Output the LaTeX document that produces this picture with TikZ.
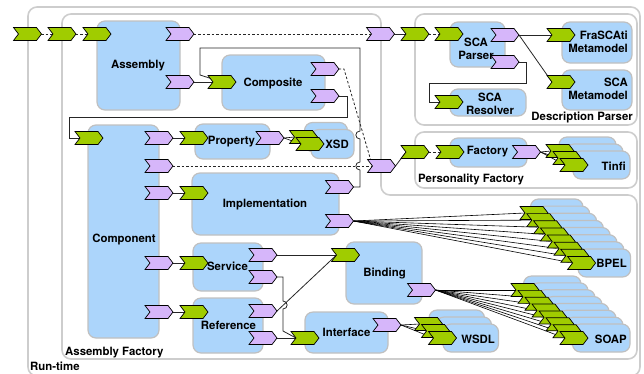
\documentclass[tikz,border=0pt]{standalone}
\usepackage{fontspec}
\setmainfont{TeX Gyre Heros}
\usetikzlibrary{shapes.symbols}
\definecolor{sgreen}{RGB}{160,204,0}
\definecolor{spurple}{RGB}{214,182,250}
\definecolor{sblue}{RGB}{172,213,251}
\definecolor{sframe}{RGB}{205,205,205}
\definecolor{sborder}{RGB}{192,192,192}
\pgfdeclarelayer{frames}
\pgfdeclarelayer{edges}
\pgfsetlayers{frames,edges,main}
\begin{document}
\begin{tikzpicture}[x=1pt,y=-1pt,
 font=\fontsize{11.4}{12.5}\selectfont\bfseries,
 port/.style={signal, signal to=east, signal from=west, signal pointer angle=105, draw=black, line width=0.7pt, minimum width=28pt, minimum height=13pt, inner sep=0pt, outer sep=0pt},
 svc/.style={port, fill=sgreen},
 rfc/.style={port, fill=spurple},
 box/.style={draw=sborder, fill=sblue, line width=1.2pt, rounded corners=8pt, inner sep=0pt},
 lbl/.style={inner sep=0pt, align=center},
 frame/.style={draw=sframe, line width=1.6pt, rounded corners=9pt},
 conn/.style={draw=black!85, line width=0.8pt},
 dconn/.style={conn, dash pattern=on 2.5pt off 2pt},
 fan/.style={draw=black, line width=0.6pt}]
\useasboundingbox (0,0) rectangle (644,373);

% ---------- frames ----------
\begin{pgfonlayer}{frames}
\draw[frame] (200,7) -- (640,7) -- (640,376) -- (28,376) -- (28,7) -- cycle;
\draw[frame] (200,14) -- (381,14) -- (381,195) -- (637,195) -- (637,359) -- (62,359) -- (62,14) -- cycle;
\draw[frame] (500,14) -- (637,14) -- (637,125) -- (415,125) -- (415,14) -- cycle;
\draw[frame] (500,132) -- (637,132) -- (637,188) -- (415,188) -- (415,132) -- cycle;
\end{pgfonlayer}
\node[lbl, anchor=east] (t_dp) at (633,117) {Description Parser};
\node[lbl, anchor=west] (t_pf) at (418,179) {Personality Factory};
\node[lbl, anchor=west] (t_af) at (65,353) {Assembly Factory};
\node[lbl, anchor=west] (t_rt) at (30,366) {Run-time};

% ---------- components ----------
\node[box, minimum width=83pt, minimum height=89pt] (asm) at (138.5,65.5) {};
\node[box, minimum width=103pt, minimum height=55pt] (cps) at (273.5,82.5) {};
\node[box, minimum width=71pt, minimum height=213pt] (cpt) at (123.5,231.5) {};
\node[box, minimum width=75pt, minimum height=35pt] (prop) at (232.5,141.5) {};
\node[box, minimum width=147pt, minimum height=62pt] (impl) at (265.5,204) {};
\node[box, minimum width=70pt, minimum height=48pt] (srv) at (228,267) {};
\node[box, minimum width=70pt, minimum height=55pt] (refc) at (228,325.5) {};
\node[box, minimum width=76pt, minimum height=62pt] (bind) at (384,273) {};
\node[box, minimum width=83pt, minimum height=41pt] (intf) at (346.5,332.5) {};
\node[box, minimum width=55pt, minimum height=45pt] (scap) at (477.5,44.5) {};
\node[box, minimum width=76pt, minimum height=27pt] (res) at (488,102.5) {};
\node[box, minimum width=70pt, minimum height=41pt] (fra) at (597,42.5) {};
\node[box, minimum width=70pt, minimum height=40pt] (scam) at (597,90) {};
\node[box, minimum width=77pt, minimum height=29pt] (fac) at (488.5,152.5) {};

% stacks (back to front)
\foreach \i in {0,1} \node[box, minimum width=43pt, minimum height=29pt] (xsdb\i) at ({303.5+6.5*\i+22.5},{137+7*\i}) {};
\foreach \i in {0,1,2} \node[box, minimum width=57pt, minimum height=28pt] (tinb\i) at ({560+7*\i+27.5},{151+7*\i}) {};
\foreach \i in {0,...,7} \node[box, minimum width=52.5pt, minimum height=28pt] (bpelb\i) at ({534+6.8*\i+22.75},{213+7.14*\i}) {};
\foreach \i in {0,...,7} \node[box, minimum width=57.5pt, minimum height=28pt] (soapb\i) at ({525+7*\i+27.25},{290+6.86*\i}) {};
\foreach \i in {0,1,2} \node[box, minimum width=55.5pt, minimum height=28pt] (wsdlb\i) at ({428.5+7*\i+28.25},{324+7*\i}) {};

% labels
\node[lbl] (l_asm) at (138,66) {Assembly};
\node[lbl] (l_cps) at (273,83) {Composite};
\node[lbl] (l_cpt) at (124,240) {Component};
\node[lbl] (l_prop) at (231.5,142) {Property};
\node[lbl] (l_impl) at (265,204) {Implementation};
\node[lbl] (l_srv) at (227.5,266) {Service};
\node[lbl] (l_refc) at (228.5,325) {Reference};
\node[lbl] (l_bind) at (384.5,273) {Binding};
\node[lbl] (l_intf) at (346.5,332) {Interface};
\node[lbl] (l_scap) at (476,49) {SCA\\Parser};
\node[lbl] (l_res) at (490,104) {SCA\\Resolver};
\node[lbl, align=right, anchor=east] (l_fra) at (628,42) {FraSCAti\\Metamodel};
\node[lbl, align=right, anchor=east] (l_scam) at (628,89) {SCA\\Metamodel};
\node[lbl] (l_fac) at (487.5,152) {Factory};
\node[lbl, anchor=east] (l_xsd) at (349,144) {XSD};
\node[lbl, anchor=east] (l_tin) at (626,166) {Tinfi};
\node[lbl, anchor=east] (l_bpel) at (627,263) {BPEL};
\node[lbl, anchor=east] (l_soap) at (627,339) {SOAP};
\node[lbl, anchor=east] (l_wsdl) at (495,339) {WSDL};

% ---------- ports ----------
\node[svc] (g_rt) at (27.5,34) {};
\node[svc] (g_af) at (62,34) {};
\node[svc] (g_asm) at (97,34) {};
\node[svc] (g_comp) at (222,82) {};
\node[svc] (g_cpt) at (89,138) {};
\node[svc] (g_prop) at (194,138) {};
\node[svc] (g_impl) at (194,193) {};
\node[svc] (g_srv) at (194,263) {};
\node[svc] (g_refc) at (194,312) {};
\node[svc] (g_bind) at (345.5,255) {};
\node[svc] (g_intf) at (305,338) {};
\node[svc] (g_dp) at (415,34) {};
\node[svc] (g_scap) at (449,34) {};
\node[svc] (g_res) at (449,102) {};
\node[svc] (g_fra) at (561,35) {};
\node[svc] (g_scam) at (561,82) {};
\node[svc] (g_pf) at (415,152) {};
\node[svc] (g_fac) at (450,152) {};
\foreach \i in {0,1} \node[svc] (xsd\i) at ({303.5+6.5*\i},{137+7*\i}) {};
\foreach \i in {0,1,2} \node[svc] (tin\i) at ({560+7*\i},{151+7*\i}) {};
\foreach \i in {0,...,7} \node[svc] (bpel\i) at ({534+6.8*\i},{213+7.14*\i}) {};
\foreach \i in {0,...,7} \node[svc] (soap\i) at ({525+7*\i},{290+6.86*\i}) {};
\foreach \i in {0,1,2} \node[svc] (wsdl\i) at ({428.5+7*\i},{324+7*\i}) {};

\node[rfc] (p_asm1) at (180,34) {};
\node[rfc] (p_asm2) at (180,82) {};
\node[rfc] (p_af1) at (380.5,34) {};
\node[rfc] (p_af2) at (381.5,166) {};
\node[rfc] (p_comp1) at (325,69) {};
\node[rfc] (p_comp2) at (325,96) {};
\node[rfc] (p_cpt1) at (159,138) {};
\node[rfc] (p_cpt2) at (159,166) {};
\node[rfc] (p_cpt3) at (159,193) {};
\node[rfc] (p_cpt4) at (159,263) {};
\node[rfc] (p_cpt5) at (159,312) {};
\node[rfc] (p_prop) at (270,138) {};
\node[rfc] (p_impl1) at (339.5,187) {};
\node[rfc] (p_impl2) at (339.5,221) {};
\node[rfc] (p_srv1) at (263,255) {};
\node[rfc] (p_srv2) at (263,277) {};
\node[rfc] (p_ref1) at (263,311) {};
\node[rfc] (p_ref2) at (263,338) {};
\node[rfc] (p_bind) at (421.5,290) {};
\node[rfc] (p_intf) at (387,325) {};
\node[rfc] (p_scap1) at (505,35) {};
\node[rfc] (p_scap2) at (505,62) {};
\node[rfc] (p_fac) at (526.5,152) {};

% ---------- connectors ----------
\begin{pgfonlayer}{edges}
\draw[dconn] (g_rt.center) -- (g_af.center);
\draw[dconn] (g_af.center) -- (g_asm.center);
\draw[dconn] (p_asm1.center) -- (p_af1.center);
\draw[conn] (p_af1.center) -- (g_dp.center);
\draw[dconn] (g_dp.center) -- (g_scap.center);
\draw[conn] (p_asm2.center) -- (g_comp.center);
\draw[conn] (p_impl1.center) -- (360,187) -- (360,170) .. controls (354.5,170) and (354.5,162) .. (360,162)
  -- (360,139) .. controls (354.5,139) and (354.5,131) .. (360,131) -- (360,48) -- (200,48) -- (200,75) -- (g_comp.center);
\draw[dconn] (p_comp1.center) -- (344,69) -- (p_af2.west);
\draw[conn] (p_comp2.center) -- (347,96) -- (347,117) -- (69,117) -- (69,138) -- (g_cpt.center);
\draw[conn] (p_cpt1.center) -- (g_prop.center);
\draw[dconn] (p_cpt2.center) -- (p_af2.center);
\draw[conn] (p_cpt3.center) -- (g_impl.center);
\draw[conn] (p_cpt4.center) -- (g_srv.center);
\draw[conn] (p_cpt5.center) -- (g_refc.center);
\draw[conn] (p_af2.east) -- (g_pf.west);
\draw[dconn] (g_pf.center) -- (g_fac.center);
\foreach \i in {0,1,2} \draw[fan] (p_fac.east) -- (tin\i.west);
\foreach \i in {0,1} \draw[fan] (p_prop.east) -- (xsd\i.west);
\foreach \i in {0,...,7} \draw[fan] (p_impl2.east) -- (bpel\i.west);
\foreach \i in {0,...,7} \draw[fan] (p_bind.east) -- (soap\i.west);
\foreach \i in {0,1,2} \draw[fan] (p_intf.east) -- (wsdl\i.west);
\draw[conn] (p_srv1.center) -- (g_bind.center);
\draw[conn] (p_srv2.center) -- (283,277) -- (283,301) .. controls (288.5,301) and (288.5,309) .. (283,309) -- (283,331) -- (g_intf.west);
\draw[conn] (p_ref1.east) -- (g_bind.west);
\draw[conn] (p_ref2.center) -- (g_intf.center);
\draw[conn] (p_scap1.east) -- (g_fra.west);
\draw[conn] (p_scap1.east) -- (g_scam.west);
\draw[conn] (p_scap2.center) -- (526,62) -- (526,83) -- (429,83) -- (429,102) -- (g_res.center);
\end{pgfonlayer}
\end{tikzpicture}
\end{document}
